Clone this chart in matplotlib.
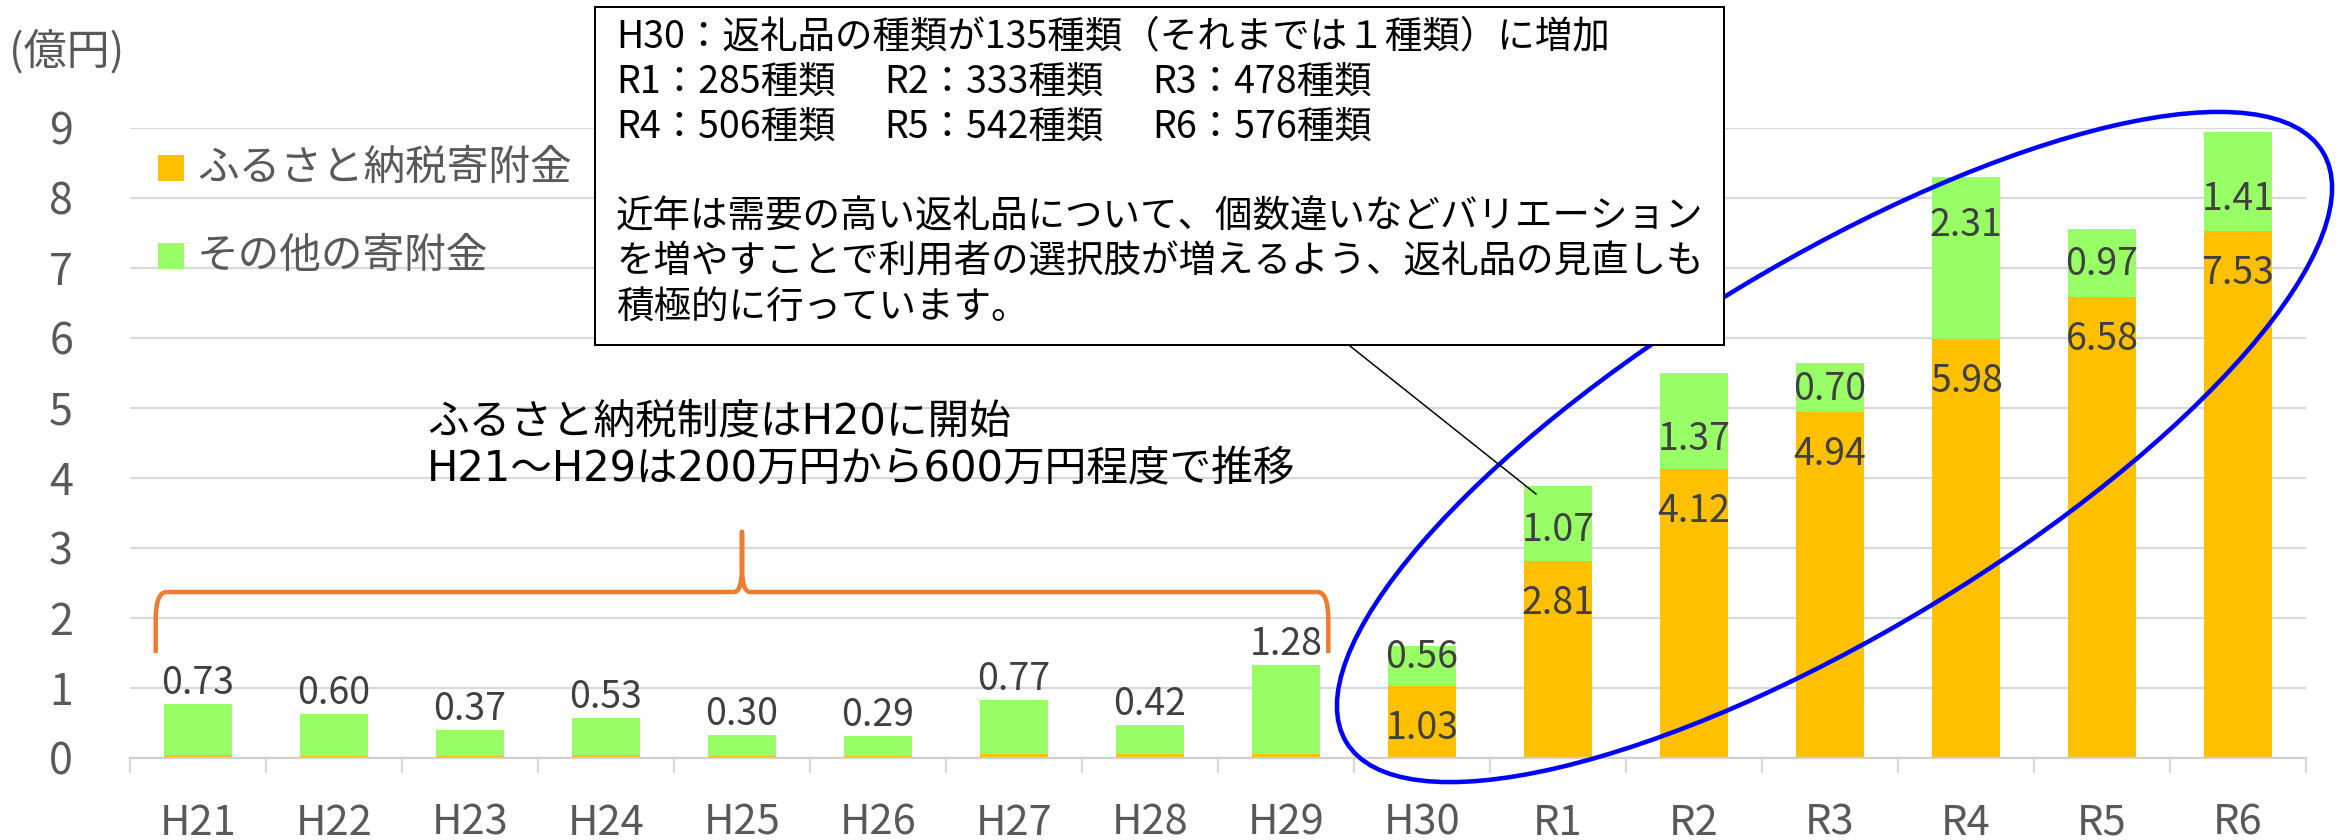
import matplotlib
matplotlib.use('Agg')
import matplotlib.pyplot as plt
from matplotlib.patches import Ellipse, Rectangle, PathPatch
from matplotlib.path import Path
from matplotlib.lines import Line2D
import numpy as np

plt.rcParams['font.family'] = ['Noto Sans CJK JP', 'DejaVu Sans']
MIXED = ['DejaVu Sans', 'Noto Sans CJK JP']

# ---------------- data ----------------
categories = ['H21', 'H22', 'H23', 'H24', 'H25', 'H26', 'H27', 'H28', 'H29',
              'H30', 'R1', 'R2', 'R3', 'R4', 'R5', 'R6']
furusato = [0.04, 0.02, 0.03, 0.04, 0.03, 0.02, 0.05, 0.05, 0.05,
            1.03, 2.81, 4.12, 4.94, 5.98, 6.58, 7.53]
other = [0.73, 0.60, 0.37, 0.53, 0.30, 0.29, 0.77, 0.42, 1.28,
         0.56, 1.07, 1.37, 0.70, 2.31, 0.97, 1.41]
yticks = [0, 1, 2, 3, 4, 5, 6, 7, 8, 9]
legend_labels = ['ふるさと納税寄附金', 'その他の寄附金']
unit_label = '(億円)'
box_line1 = 'H30：返礼品の種類が135種類（それまでは１種類）に増加'
box_groups2 = ['R1：285種類', 'R2：333種類', 'R3：478種類']
box_groups3 = ['R4：506種類', 'R5：542種類', 'R6：576種類']
box_para = ['近年は需要の高い返礼品について、個数違いなどバリエーション',
            'を増やすことで利用者の選択肢が増えるよう、返礼品の見直しも',
            '積極的に行っています。']
note_lines = ['ふるさと納税制度はH20に開始',
              'H21～H29は200万円から600万円程度で推移']

# ---------------- style ----------------
ORANGE = '#FFC000'
GREEN = '#99FF66'
GRID = '#D9D9D9'
TICKC = '#595959'
LABC = '#404040'
W, H, DPI = 2341, 840, 100
PT = 72.0 / DPI  # points per pixel

fig = plt.figure(figsize=(W / DPI, H / DPI), dpi=DPI, facecolor='white')
T = fig.dpi_scale_trans


def fx(px):
    return px / DPI


def fy(py):
    return (H - py) / DPI


ax_left, ax_right, ax_top, ax_bot = 130, 2306, 127.7, 757.7
ax = fig.add_axes([ax_left / W, (H - ax_bot) / H,
                   (ax_right - ax_left) / W, (ax_bot - ax_top) / H])

x = np.arange(len(categories))
total = np.array(furusato) + np.array(other)
ax.bar(x, furusato, width=0.5, color=ORANGE, zorder=2)
ax.bar(x, other, bottom=furusato, width=0.5, color=GREEN, zorder=2)

ax.set_xlim(-0.5, len(categories) - 0.5)
ax.set_ylim(0, 9)
ax.set_yticks(yticks)
ax.yaxis.grid(True, color=GRID, lw=1.6)
ax.set_axisbelow(True)
for s in ['left', 'right', 'top']:
    ax.spines[s].set_visible(False)
ax.spines['bottom'].set_color('#D0D0D0')
ax.spines['bottom'].set_linewidth(1.6)
ax.tick_params(axis='y', length=0, pad=57 * PT, labelsize=31, labelcolor=TICKC)
ax.set_xticks(x)
ax.set_xticklabels(categories)
ax.tick_params(axis='x', which='major', length=0, pad=45 * PT, labelsize=30,
               labelcolor=TICKC)
ax.set_xticks(np.arange(-0.5, len(categories)), minor=True)
ax.tick_params(axis='x', which='minor', length=15 * PT, width=1.6, color=GRID)

# ---------------- data labels ----------------
LAB_FS = 27
cap_px = 0.70 * LAB_FS / PT
green_drop_px = [8, 42, 63, 24, 45, 33, 65]
for i in range(len(categories)):
    if i < 9:
        ax.annotate(f'{other[i]:.2f}', xy=(i, total[i]), xytext=(0, 10 * PT),
                    textcoords='offset points', ha='center', va='baseline',
                    fontsize=LAB_FS, color=LABC, zorder=5)
    else:
        ax.annotate(f'{furusato[i]:.2f}', xy=(i, furusato[i]),
                    xytext=(0, -(40 + cap_px / 2) * PT),
                    textcoords='offset points', ha='center', va='baseline',
                    fontsize=LAB_FS, color=LABC, zorder=5)
        ax.annotate(f'{other[i]:.2f}', xy=(i, total[i]),
                    xytext=(0, -(green_drop_px[i - 9] + cap_px / 2) * PT),
                    textcoords='offset points', ha='center', va='baseline',
                    fontsize=LAB_FS, color=LABC, zorder=5)

# ---------------- brace ----------------
bl, br, bc = -0.311, 8.311, 4.0
by, bend, bpeak = 2.367, 1.496, 3.224
verts = [(bl, bend), (bl, by - 0.4), (bl, by), (bl + 0.08, by),
         (bc - 0.06, by), (bc, by), (bc, by + 0.35), (bc, bpeak),
         (bc, by + 0.35), (bc, by), (bc + 0.06, by),
         (br - 0.08, by), (br, by), (br, by - 0.4), (br, bend)]
codes = [Path.MOVETO, Path.LINETO, Path.CURVE3, Path.CURVE3,
         Path.LINETO, Path.CURVE3, Path.CURVE3, Path.LINETO,
         Path.LINETO, Path.CURVE3, Path.CURVE3,
         Path.LINETO, Path.CURVE3, Path.CURVE3, Path.LINETO]
ax.add_patch(PathPatch(Path(verts, codes), fill=False, edgecolor='#ED7D31',
                       lw=4.5 * PT, capstyle='butt', joinstyle='round',
                       zorder=6, clip_on=False))

# notes under the box
fig.text(fx(427), fy(421), note_lines[0], transform=T, fontsize=30,
         family=MIXED, color='black', ha='left', va='center')
fig.text(fx(427), fy(469), note_lines[1], transform=T, fontsize=30,
         family=MIXED, color='black', ha='left', va='center')

# ---------------- legend ----------------
for j, (lab, col) in enumerate(zip(legend_labels, [ORANGE, GREEN])):
    cy = [168, 256][j]
    fig.add_artist(Rectangle((fx(158), fy(cy + 13)), 26 / DPI, 26 / DPI,
                             transform=T, facecolor=col, edgecolor='none'))
    fig.text(fx(197), fy(cy), lab, transform=T, fontsize=30, color=TICKC,
             ha='left', va='center')

fig.text(fx(67), fy(52), unit_label, transform=T, fontsize=31, color=TICKC,
         ha='center', va='center')

# ---------------- ellipse ----------------
fig.add_artist(Ellipse((fx(1834.5), fy(447)), 1141 / DPI, 371 / DPI,
                       angle=31.15, transform=T, fill=False,
                       edgecolor='#0000FF', lw=4.5 * PT, zorder=7))

# ---------------- callout box ----------------
fig.add_artist(Rectangle((fx(595), fy(345)), (1724 - 595) / DPI,
                         (345 - 7) / DPI, transform=T, facecolor='white',
                         edgecolor='black', lw=2 * PT, zorder=8))
BFS = 27
fig.text(fx(616), fy(37), box_line1, transform=T, fontsize=BFS, color='black',
         ha='left', va='center', zorder=9)
for gx, g in zip([616, 884, 1152], box_groups2):
    fig.text(fx(gx), fy(82), g, transform=T, fontsize=BFS, color='black',
             ha='left', va='center', zorder=9)
for gx, g in zip([616, 884, 1152], box_groups3):
    fig.text(fx(gx), fy(127), g, transform=T, fontsize=BFS, color='black',
             ha='left', va='center', zorder=9)
for k, line in enumerate(box_para):
    fig.text(fx(616), fy(217 + 45 * k), line, transform=T, fontsize=BFS,
             color='black', ha='left', va='center', zorder=9)

fig.add_artist(Line2D([fx(1350), fx(1536)], [fy(346), fy(494)], transform=T,
                      color='black', lw=1.5 * PT, zorder=9))

fig.savefig('out.png', dpi=DPI, facecolor='white')
